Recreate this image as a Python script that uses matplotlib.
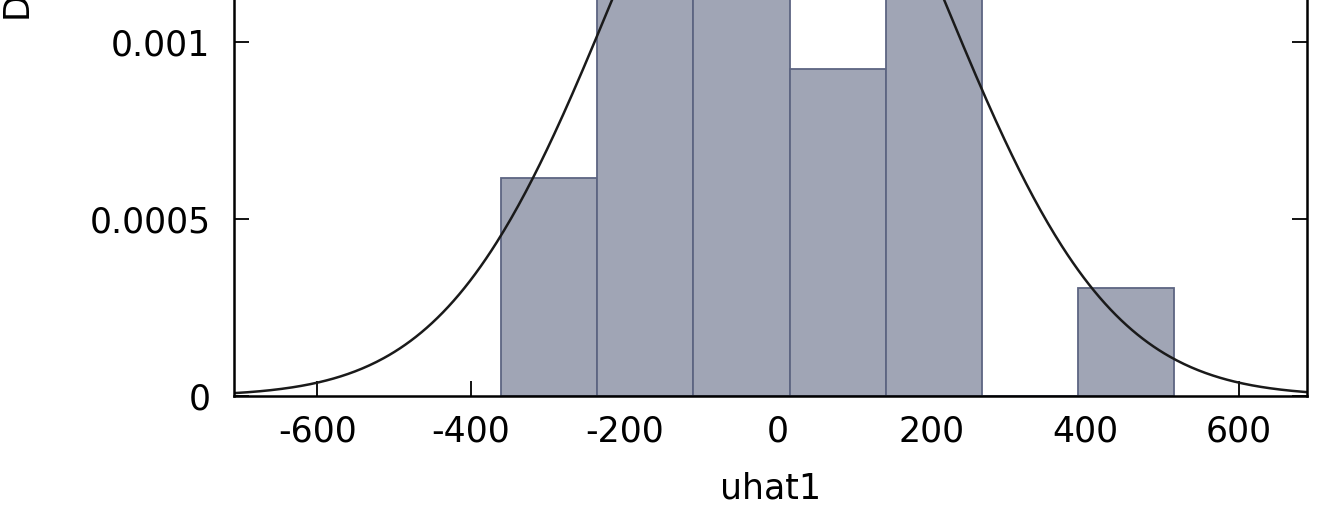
import numpy as np
import matplotlib
matplotlib.use("Agg")
import matplotlib.pyplot as plt

plt.rcParams['axes.unicode_minus'] = False

# histogram of residuals (uhat1)
bin_edges = [-361, -236, -111, 15, 140, 265, 390, 516]
bin_counts = [2, 7, 7, 3, 6, 0, 1]
# normal density drawn over it
norm_mean = 0.0
norm_sd = 215.0

x_ticks = [-600, -400, -200, 0, 200, 400, 600]
y_ticks = [0, 0.0005, 0.001]
y_ticklabels = ['0', '0.0005', '0.001']

W, H = 1324, 505
fig = plt.figure(figsize=(W / 100, H / 100), dpi=100)

ymax = 0.0021
px_per_unit = 354000
ax_left, ax_right, ax_bottom = 234, 1307, 396
ax = fig.add_axes([ax_left / W, (H - ax_bottom) / H,
                   (ax_right - ax_left) / W, ymax * px_per_unit / H])

centers = [(a + b) / 2 for a, b in zip(bin_edges[:-1], bin_edges[1:])]
ax.hist(centers, bins=bin_edges, weights=bin_counts, density=True,
        color='#a0a5b5', edgecolor='#5d6582', linewidth=1.3, zorder=1)

xs = np.linspace(-710, 690, 600)
ys = np.exp(-(xs - norm_mean) ** 2 / (2 * norm_sd ** 2)) / (norm_sd * np.sqrt(2 * np.pi))
ax.plot(xs, ys, color='#1a1a1a', linewidth=1.8, zorder=3)

ax.set_xlim(-708.6, 688.8)
ax.set_ylim(0, ymax)
ax.set_axisbelow(True)

ax.set_xticks(x_ticks)
ax.set_yticks(y_ticks)
ax.set_yticklabels(y_ticklabels)
ax.tick_params(direction='in', length=10.5, width=1.3, labelsize=25,
               left=True, right=True, top=True, bottom=True)
ax.tick_params(axis='x', pad=13)
ax.tick_params(axis='y', pad=17)
for s in ax.spines.values():
    s.set_linewidth(1.8)
    s.set_zorder(4)

ax.set_xlabel('uhat1', fontsize=25, labelpad=17)
fig.text(17 / W, (H - 18) / H, 'Density', rotation=90, fontsize=25,
         ha='center', va='bottom')

fig.savefig('out.png', dpi=100)
